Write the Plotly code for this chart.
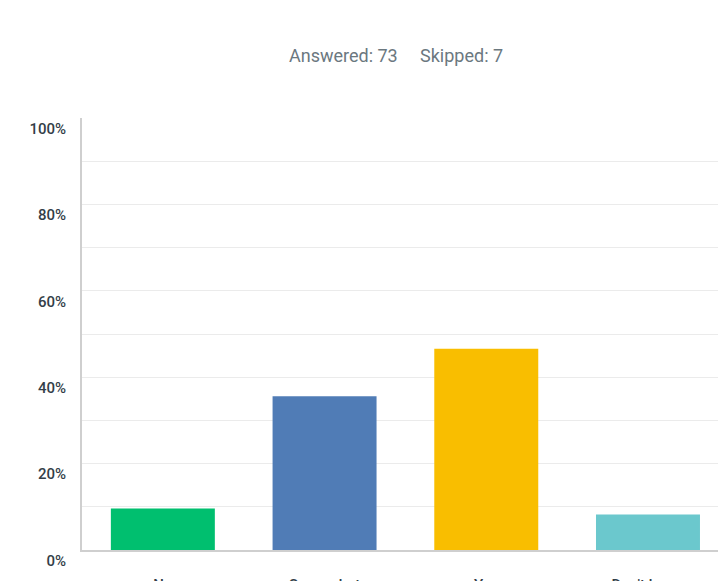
import plotly.graph_objects as go

categories = ["No", "Somewhat", "Yes", "Don't know"]
counts = [7, 26, 34, 6]
answered = 73
skipped = 7
percents = [c / answered * 100 for c in counts]
colors = ["#00BF6F", "#507CB6", "#F9BE00", "#6BC8CD"]
y_ticks = [0, 20, 40, 60, 80, 100]
y_tick_labels = ["0%", "20%", "40%", "60%", "80%", "100%"]

fig = go.Figure()
fig.add_trace(go.Bar(
    x=categories, y=percents, marker=dict(color=colors, line=dict(width=0)),
    width=0.643, hoverinfo="x+y",
))

fig.update_layout(
    width=718, height=581,
    margin=dict(l=82, r=0, t=118, b=31, autoexpand=False),
    paper_bgcolor="white", plot_bgcolor="white",
    showlegend=False,
    font=dict(family="Roboto, Arial, sans-serif"),
    annotations=[dict(
        text=f"Answered: {answered}&nbsp;&nbsp;&nbsp;&nbsp;&nbsp;Skipped: {skipped}",
        x=(396 - 82) / (718 - 82), y=1 + (118 - 56) / (550 - 118),
        xref="paper", yref="paper", showarrow=False,
        xanchor="center", yanchor="middle",
        font=dict(size=18, color="#6B787F", family="Roboto, Arial, sans-serif"),
    )],
)

fig.update_xaxes(
    range=[-0.5, 3.433], showgrid=False, showline=True, linecolor="#CFCFCF",
    linewidth=2, ticks="", ticklabelstandoff=20, automargin=False,
    tickfont=dict(size=15, color="#333E48", family="Roboto, Arial, sans-serif", weight=500),
)
fig.update_yaxes(
    range=[0, 100], tickvals=y_ticks, ticktext=y_tick_labels,
    showgrid=True, gridcolor="#EBEBEB", gridwidth=1,
    minor=dict(dtick=10, showgrid=True, gridcolor="#EBEBEB", gridwidth=1),
    showline=True, linecolor="#CFCFCF", linewidth=2, automargin=False,
    ticks="", ticklabelposition="outside bottom", ticklabelstandoff=11,
    zeroline=False,
    tickfont=dict(size=15, color="#333E48", family="Roboto, Arial, sans-serif", weight=500),
)

fig.write_html("out.html")
